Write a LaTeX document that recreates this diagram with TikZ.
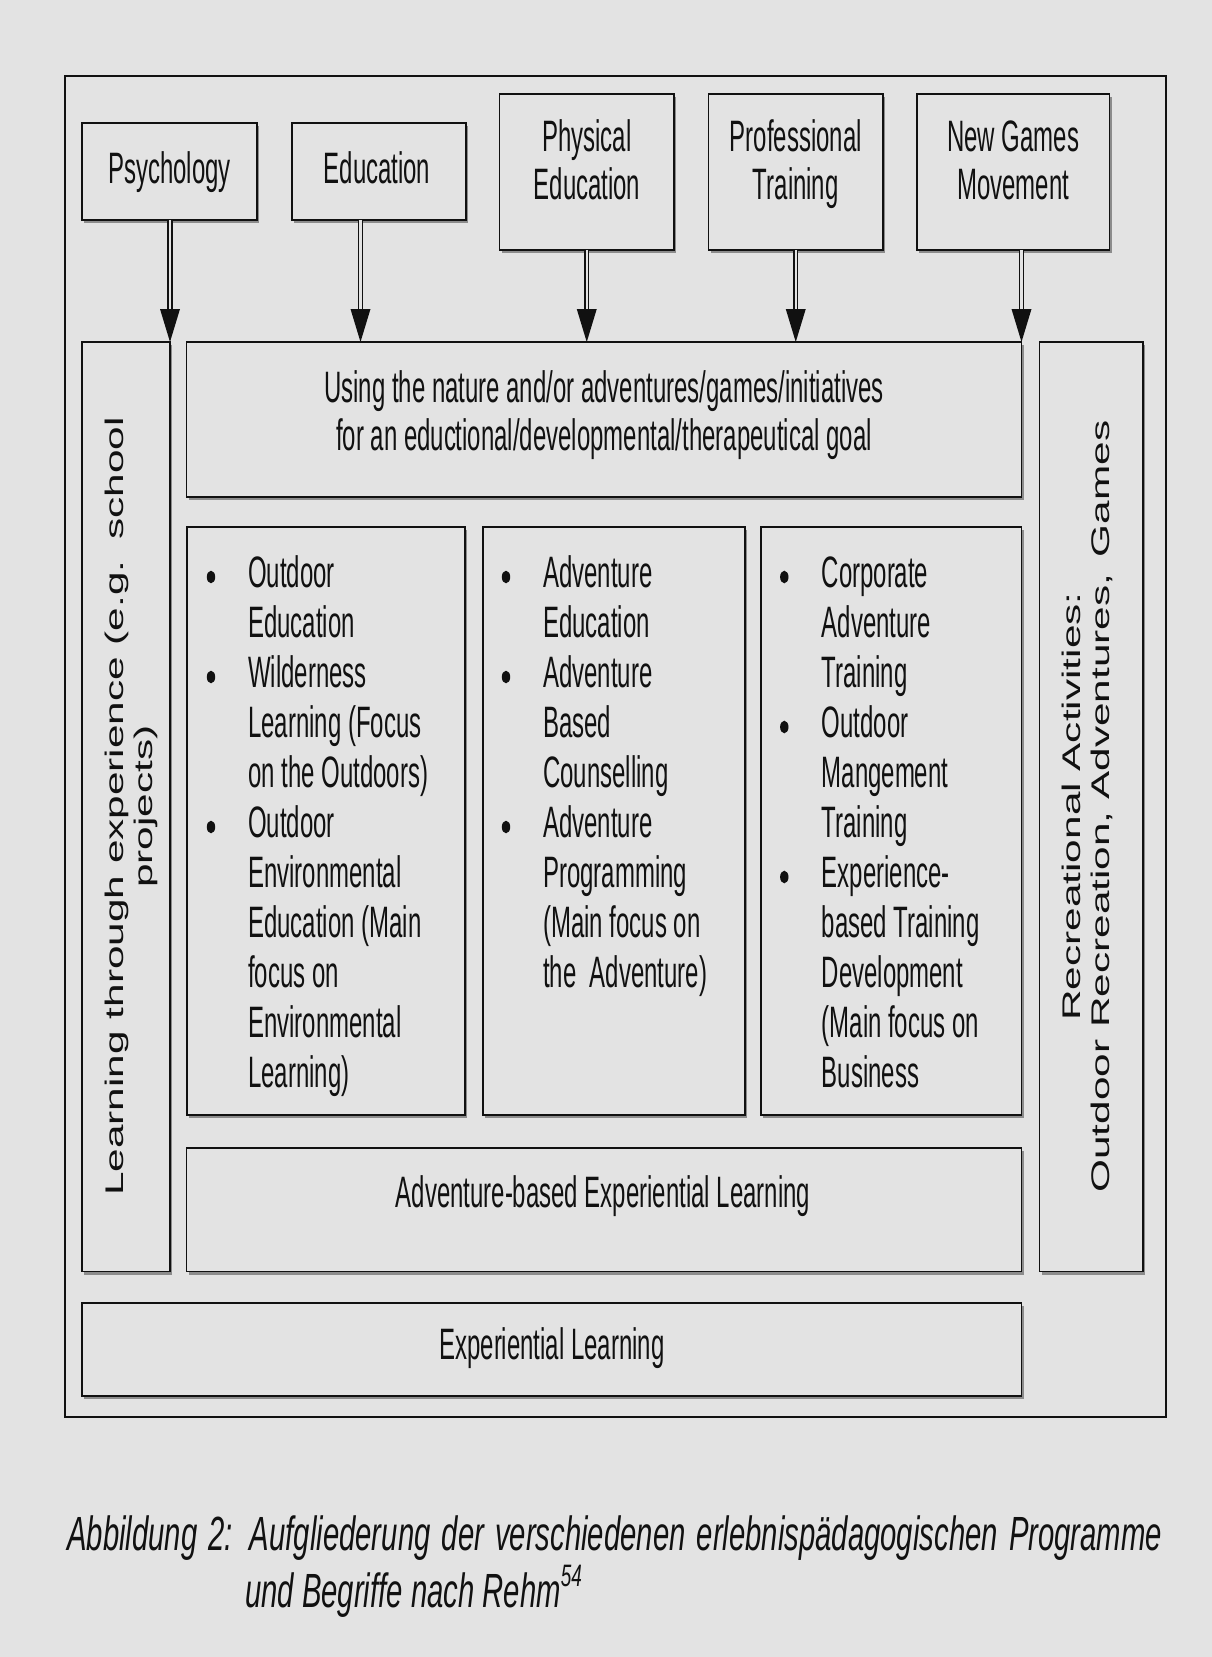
\documentclass[tikz,border=0pt]{standalone}
\usepackage{fontspec}
\usetikzlibrary{calc,shadows}
\newfontfamily\hfont[FakeStretch=0.545]{Liberation Sans}
\newfontfamily\vfont[FakeStretch=1.66]{Liberation Sans}
\newfontfamily\capfont[FakeStretch=0.61]{Liberation Sans}
\definecolor{bg}{HTML}{E3E3E3}
\definecolor{ink}{HTML}{111111}

\tikzset{
  box/.style={draw=ink, line width=1.6pt, fill=bg, inner sep=0pt, outer sep=0pt,
    anchor=north west,
    drop shadow={shadow xshift=2pt, shadow yshift=-3pt, fill=black!45, opacity=1}},
  lbl/.style={inner sep=0pt, outer sep=0pt, text=ink, anchor=base,
    font=\hfont\fontsize{44}{48}\selectfont},
  vlbl/.style={inner sep=0pt, outer sep=0pt, text=ink, rotate=90, anchor=base,
    font=\vfont\fontsize{25.5}{29.5}\selectfont},
  caplbl/.style={inner sep=0pt, anchor=base west, text=ink,
    font=\capfont\itshape\fontsize{48}{56}\selectfont},
  shaft/.style={draw=ink, line width=1.4pt, double=bg, double distance=2.3pt},
  head/.style={fill=ink},
  dot/.style={fill=ink},
}
% box from corner (x1,y1) to corner (x2,y2), y measured downwards
\newcommand{\boxat}[5]{\node[box, minimum width={#4pt-#2pt}, minimum height={#5pt-#3pt}] (#1) at (#2,#3) {};}
% double-shafted arrow ending in a solid head
\newcommand{\dblarrow}[2]{%
  \draw[shaft] (#1) -- ($(#2)+(0,-32)$);
  \fill[head] (#2) -- ++(-10,-33) -- ++(20,0) -- cycle;}

\begin{document}
\begin{tikzpicture}[x=1pt,y=-1pt]
\useasboundingbox (0,0) rectangle (1212,1657);
\fill[bg] (0,0) rectangle (1212,1657);

% outer frame
\node[draw=ink, line width=2pt, inner sep=0pt, anchor=north west,
  minimum width=1100.5pt, minimum height=1341pt] (frame) at (64,75) {};

% source disciplines
\boxat{psy}{82}{123}{257}{220}
\boxat{edu}{292}{123}{466}{220}
\boxat{phy}{499.5}{94}{674}{250}
\boxat{pro}{708.5}{94}{883}{250}
\boxat{ngm}{917}{94}{1109.5}{250}

% main body
\boxat{left}{82}{342}{170}{1271.5}
\boxat{use}{186.5}{342}{1021.5}{497}
\boxat{right}{1039.5}{342}{1143}{1271.5}
\boxat{c1}{187}{527}{465}{1115}
\boxat{c2}{483}{527}{745}{1115}
\boxat{c3}{761}{527}{1021.5}{1115}
\boxat{abel}{186.5}{1148}{1021.5}{1271.5}
\boxat{el}{82}{1303}{1021.5}{1396}

% arrows
\coordinate (eduTip) at ($(use.north west)+(174,0)$);
\dblarrow{psy.south -| left.north east}{left.north east}
\dblarrow{edu.south -| eduTip}{eduTip}
\dblarrow{phy.south}{phy.south |- use.north}
\dblarrow{pro.south}{pro.south |- use.north}
\dblarrow{ngm.south -| use.north east}{use.north east}

% labels of the source boxes
\node[lbl] (psyT) at (169.5,183) {Psychology};
\node[lbl] (eduT) at (377,183) {Education};
\node[lbl] (phyT) at (587,151) {\parbox[t]{170pt}{\centering Physical\\Education}};
\node[lbl] (proT) at (795.8,151) {\parbox[t]{170pt}{\centering Professional\\Training}};
\node[lbl] (ngmT) at (1013.3,151) {\parbox[t]{190pt}{\centering New Games\\Movement}};

\node[lbl] (useT) at (604,402) {\parbox[t]{830pt}{\centering Using the nature and/or adventures/games/initiatives\\for an eductional/developmental/therapeutical goal}};

% program lists
\node[lbl, anchor=base west] (c1T) at (248.3,587) {\parbox[t]{215pt}{\fontsize{44}{50}\selectfont\raggedright
  Outdoor\\Education\\Wilderness\\Learning (Focus\\on the Outdoors)\\Outdoor\\Environmental\\Education (Main\\focus on\\Environmental\\Learning)}};
\node[lbl, anchor=base west] (c2T) at (543.3,587) {\parbox[t]{200pt}{\fontsize{44}{50}\selectfont\raggedright
  Adventure\\Education\\Adventure\\Based\\Counselling\\Adventure\\Programming\\(Main focus on\\the\ \ Adventure)}};
\node[lbl, anchor=base west] (c3T) at (821.7,587) {\parbox[t]{198pt}{\fontsize{44}{50}\selectfont\raggedright
  Corporate\\Adventure\\Training\\Outdoor\\Mangement\\Training\\Experience-\\based Training\\Development\\(Main focus on\\Business}};

% bullets
\foreach \bx/\rows in {211/{0,2,5}, 506/{0,2,5}, 784.3/{0,3,6}}{
  \foreach \r in \rows{
    \fill[dot] (\bx,{587+50*\r-10}) ellipse [x radius=4.2, y radius=6.3];
  }
}

\node[lbl] (abelT) at (603,1207) {Adventure-based Experiential Learning};
\node[lbl] (elT) at (552,1359) {Experiential Learning};

% side labels, reading upwards
\node[vlbl] (leftT) at (123.3,806.5) {\parbox[t]{900pt}{\centering Learning through experience (e.g. \hspace{5pt}school\\projects)}};
\node[vlbl] (rightT) at (1080,806.5) {\parbox[t]{900pt}{\centering Recreational Activities:\\Outdoor Recreation, Adventures, \hspace{5pt}Games}};

% caption
\node[caplbl] (capA) at (67,1550)
  {\makebox[1095pt][s]{Abbildung 2: Aufgliederung der verschiedenen erlebnispädagogischen Programme}};
\node[caplbl] (capB) at (245,1607)
  {und Begriffe nach Rehm\raisebox{21pt}{\fontsize{31}{31}\selectfont 54}};
\end{tikzpicture}
\end{document}
